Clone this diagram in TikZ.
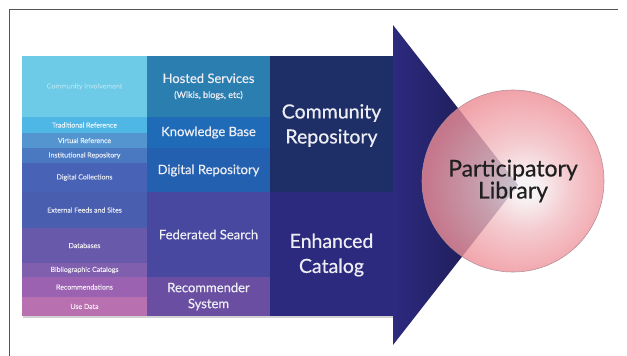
\documentclass[tikz,border=0pt]{standalone}
\usepackage{fontspec}
\setmainfont{Lato}[FakeBold=0.5]
\usetikzlibrary{shadows}

% cell colours, left column (sources)
\definecolor{cInvolve}{HTML}{6DCBE7}
\definecolor{cTradRef}{HTML}{4EB7E6}
\definecolor{cVirtRef}{HTML}{5495D0}
\definecolor{cInstRep}{HTML}{4A78C1}
\definecolor{cDigCol}{HTML}{4863B5}
\definecolor{cExtFeed}{HTML}{4A5EB0}
\definecolor{cDbase}{HTML}{6859AB}
\definecolor{cBiblio}{HTML}{7F5FAE}
\definecolor{cRecs}{HTML}{9A62B1}
\definecolor{cUseData}{HTML}{B870B1}
% middle column (services)
\definecolor{cHosted}{HTML}{2B7EB0}
\definecolor{cKnow}{HTML}{1F6BB8}
\definecolor{cDigRep}{HTML}{2360B0}
\definecolor{cFedSearch}{HTML}{4848A0}
\definecolor{cRecSys}{HTML}{6A4EA1}
% right column (outcomes)
\definecolor{cCommRep}{HTML}{1E2E66}
\definecolor{cEnhCat}{HTML}{2C2A7E}
% arrow head and circle
\definecolor{headLeft}{HTML}{2D2A80}
\definecolor{headRight}{HTML}{16163F}
\definecolor{glowin}{HTML}{F6F0F2}
\definecolor{glowmid}{HTML}{F2C0C5}
\definecolor{glowout}{HTML}{EE8C95}
\definecolor{rimcol}{HTML}{B08890}
\definecolor{labelcol}{HTML}{EDEDF4}
\definecolor{framecol}{HTML}{555555}

% soft pink glow, brightest just right of the centre
\pgfdeclareradialshading{pinkglow}{\pgfpoint{4bp}{-2bp}}{%
  color(0bp)=(glowin); color(3bp)=(glowin); color(12bp)=(glowmid);
  color(26bp)=(glowout); color(50bp)=(glowout)}

\tikzset{
  srclabel/.style={text=white, text opacity=0.78, font=\fontsize{7}{8}\selectfont, inner sep=0pt},
  svclabel/.style={text=labelcol, align=center, font=\fontsize{13}{16}\selectfont, inner sep=0pt},
  outlabel/.style={text=labelcol, align=center, font=\fontsize{19.5}{25}\selectfont, inner sep=0pt},
}

\begin{document}
\begin{tikzpicture}[x=1pt, y=-1pt]
  \useasboundingbox (0,0) rectangle (627,356);
  \fill[white] (0,0) rectangle (627,356);

  % page frame
  \draw[framecol, line width=0.9pt] (9,356) -- (9,9.5) -- (618,9.5);

  % arrow body with soft shadow
  \fill[white, drop shadow={shadow xshift=1pt, shadow yshift=-1.5pt, opacity=0.35}] (22,56) rectangle (393,316);

  % sources
  \fill[cInvolve] (22,56) rectangle (147,117);
  \fill[cTradRef] (22,117) rectangle (147,133);
  \fill[cVirtRef] (22,133) rectangle (147,148);
  \fill[cInstRep] (22,148) rectangle (147,163);
  \fill[cDigCol]  (22,163) rectangle (147,192);
  \fill[cExtFeed] (22,192) rectangle (147,228);
  \fill[cDbase]   (22,228) rectangle (147,263);
  \fill[cBiblio]  (22,263) rectangle (147,277);
  \fill[cRecs]    (22,277) rectangle (147,297);
  \fill[cUseData] (22,297) rectangle (147,316);

  % services
  \fill[cHosted]    (147,56) rectangle (270,117);
  \fill[cKnow]      (147,117) rectangle (270,148);
  \fill[cDigRep]    (147,148) rectangle (270,192);
  \fill[cFedSearch] (147,192) rectangle (270,277);
  \fill[cRecSys]    (147,277) rectangle (270,316);

  % outcomes
  \fill[cCommRep] (270,56) rectangle (393,192);
  \fill[cEnhCat]  (270,192) rectangle (393,316);

  % arrow head
  \shade[left color=headLeft, right color=headRight] (393,25) -- (518,185) -- (393,345) -- cycle;

  % source labels
  \node[srclabel, text opacity=0.35] (involve) at (84.5,86.5) {Community Involvement};
  \node[srclabel] (tradref)  at (84.5,125)   {Traditional Reference};
  \node[srclabel] (virtref)  at (84.5,140.5) {Virtual Reference};
  \node[srclabel] (instrep)  at (84.5,155.5) {Institutional Repository};
  \node[srclabel] (digcol)   at (84.5,177.5) {Digital Collections};
  \node[srclabel] (extfeed)  at (84.5,210)   {External Feeds and Sites};
  \node[srclabel] (dbase)    at (84.5,245.5) {Databases};
  \node[srclabel] (biblio)   at (84.5,270)   {Bibliographic Catalogs};
  \node[srclabel] (recs)     at (84.5,287)   {Recommendations};
  \node[srclabel] (usedata)  at (84.5,306.5) {Use Data};

  % service labels
  \node[svclabel] (hosted) at (208.5,86.5) {Hosted Services\\[-1pt]{\fontsize{9}{11}\selectfont (Wikis, blogs, etc)}};
  \node[svclabel] (know)   at (208.5,132.5) {Knowledge Base};
  \node[svclabel] (digrep) at (208.5,170.5) {Digital Repository};
  \node[svclabel] (fedsearch) at (208.5,234.5) {Federated Search};
  \node[svclabel] (recsys) at (208.5,296.5) {Recommender\\System};

  % outcome labels
  \node[outlabel] (commrep) at (331.5,125.5) {Community\\Repository};
  \node[outlabel] (enhcat)  at (331.5,255)   {Enhanced\\Catalog};

  % goal circle
  \node[circle, minimum size=182pt, inner sep=0pt, draw=rimcol, line width=0.6pt,
        shading=pinkglow, fill opacity=0.8, draw opacity=0.9, text opacity=1,
        text=black!88, align=center, font=\fontsize{23}{22}\selectfont]
        (plib) at (513,181) {Participatory\\Library};
\end{tikzpicture}
\end{document}
